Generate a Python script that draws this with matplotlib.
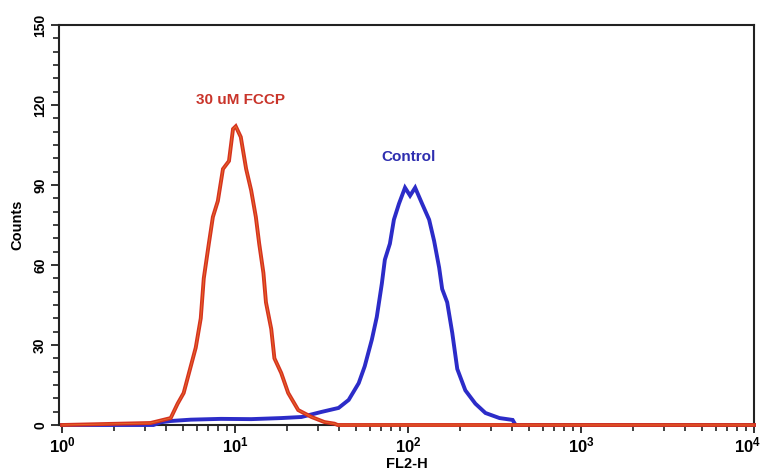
import matplotlib
matplotlib.use("Agg")
import matplotlib.pyplot as plt
import matplotlib.transforms as mtransforms
from matplotlib.ticker import FixedLocator, LogLocator, NullFormatter, MultipleLocator

plt.rcParams['font.family'] = ['Liberation Sans', 'DejaVu Sans']
plt.rcParams['font.weight'] = 'bold'
plt.rcParams['mathtext.fontset'] = 'custom'
plt.rcParams['mathtext.rm'] = 'Liberation Sans:bold'
plt.rcParams['mathtext.it'] = 'Liberation Sans:bold'
plt.rcParams['mathtext.bf'] = 'Liberation Sans:bold'

# FCCP-treated histogram (FL2-H value, counts)
fccp_x = [1.0, 3.25, 4.25, 4.66, 5.05, 5.55, 5.93, 6.34, 6.60, 7.06, 7.45, 7.96, 8.52,
          9.23, 9.74, 10.1, 10.8, 11.6, 12.4, 13.2, 13.8, 14.6, 15.1, 16.2, 16.9,
          18.5, 20.3, 23.2, 27.7, 32.9, 37.6, 39.2, 10000.0]
fccp_y = [0, 0.75, 2.6, 8, 12, 22, 29, 40, 55, 68, 78, 84, 96,
          99, 111, 112, 108, 96, 88, 78, 68, 57, 46, 36, 25,
          19.5, 12, 5.6, 3, 1.1, 0.5, 0, 0]

# Control histogram (FL2-H value, counts)
ctrl_x = [1.0, 3.38, 3.71, 4.25, 5.55, 8.29, 12.4, 18.5, 24.2, 31.6, 39.7, 45.4, 51.9,
          56.2, 61.8, 66.0, 70.6, 73.5, 78.6, 82.9, 88.7, 96.1, 102.8, 110.0,
          120.6, 132.5, 141.6, 151.4, 157.6, 168.5, 180.3, 192.7, 214.5, 245.2,
          280.4, 338.0, 402.5, 418.7, 10000.0]
ctrl_y = [0, 0, 1, 1.5, 2, 2.3, 2.2, 2.6, 3, 4.9, 6.4, 9.4, 15.7,
          22, 32, 40.5, 53, 62, 68, 77, 83, 89, 86, 89,
          83, 77, 69, 59, 51, 46, 34.5, 21, 13, 8,
          4.5, 2.6, 1.9, 0, 0]

x_major = [1, 10, 100, 1000, 10000]
x_labels = ['$10^{0}$', '$10^{1}$', '$10^{2}$', '$10^{3}$', '$10^{4}$']
y_major = [0, 30, 60, 90, 120, 150]

W, H = 765, 474
fig = plt.figure(figsize=(W / 100, H / 100), dpi=100)
left_px, right_px, top_px, bot_px = 59, 754, 25, 425
ax = fig.add_axes([left_px / W, (H - bot_px) / H, (right_px - left_px) / W, (bot_px - top_px) / H])

blue = '#2c2cc8'
red = '#d6321f'
ax.plot(ctrl_x, ctrl_y, color=blue, lw=2.8, clip_on=False, zorder=3, solid_joinstyle='miter')
ax.plot(fccp_x, fccp_y, color=red, lw=2.8, clip_on=False, zorder=4, solid_joinstyle='miter')
ax.plot(fccp_x, fccp_y, color='#e8762a', lw=0.7, clip_on=False, zorder=5, alpha=0.8)

ax.set_xscale('log')
ax.set_xlim(0.961, 10000)
ax.set_ylim(0, 150)

ax.xaxis.set_major_locator(FixedLocator(x_major))
ax.set_xticklabels(x_labels)
ax.xaxis.set_minor_locator(LogLocator(base=10, subs=range(2, 10), numticks=20))
ax.xaxis.set_minor_formatter(NullFormatter())
ax.yaxis.set_major_locator(FixedLocator(y_major))
ax.yaxis.set_minor_locator(MultipleLocator(5))
ax.set_yticklabels([str(v) for v in y_major], rotation=90, va='center')

ax.tick_params(axis='both', which='major', direction='out', length=5.5, width=1.3, color='#222222')
ax.tick_params(axis='both', which='minor', direction='out', length=4, width=1.2, color='#222222')
ax.tick_params(axis='x', which='major', labelsize=12, pad=2)
ax.tick_params(axis='y', which='major', labelsize=10, pad=3)

last = ax.get_xticklabels()[-1]
last.set_transform(last.get_transform() + mtransforms.ScaledTranslation(-6 / 100, 0, fig.dpi_scale_trans))

for s in ax.spines.values():
    s.set_linewidth(1.5)
    s.set_color('#222222')

ax.set_xlabel('FL2-H', fontsize=10.5, fontweight='bold', labelpad=1)
ax.set_ylabel('Counts', fontsize=10.5, fontweight='bold', labelpad=6)

ax.text(10.7, 122, '30 uM FCCP', color='#c9342a', fontsize=11, fontweight='bold', ha='center', va='center')
ax.text(100.7, 100.5, 'Control', color='#2e2eb0', fontsize=11, fontweight='bold', ha='center', va='center')

fig.savefig('out.png', dpi=100)
